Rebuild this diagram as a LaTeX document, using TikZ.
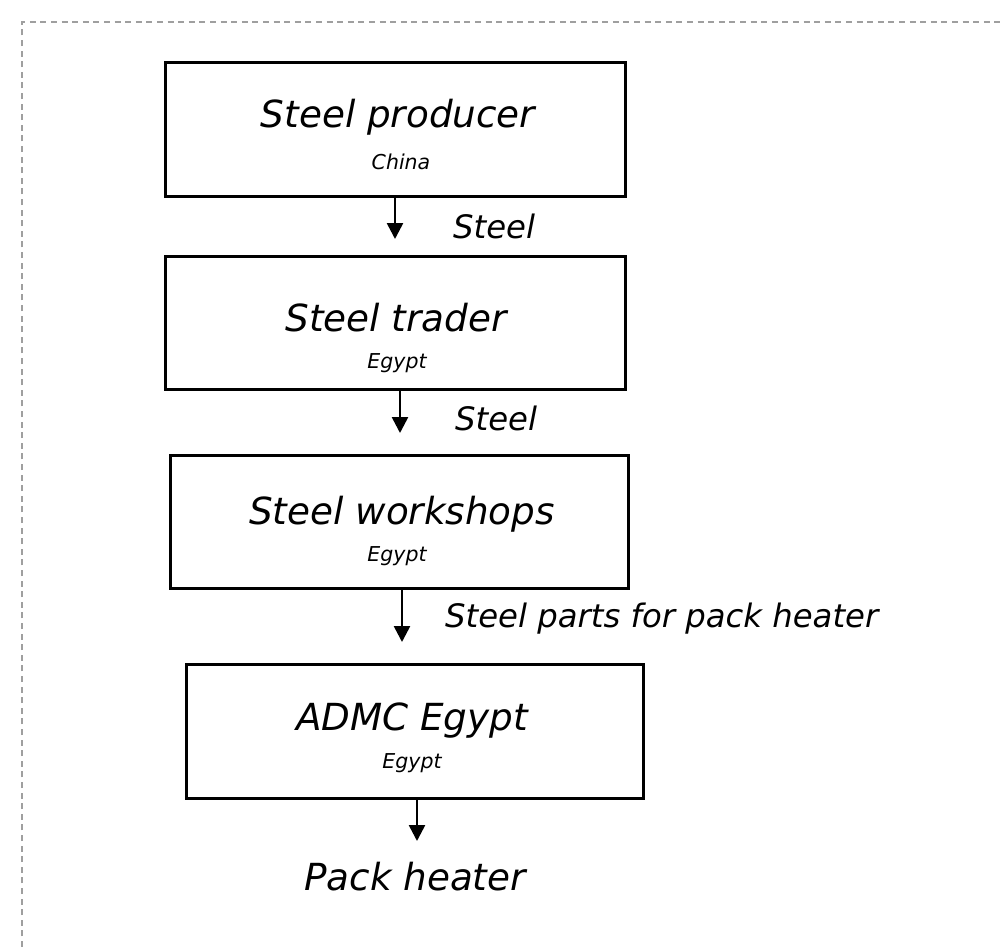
\documentclass[tikz,border=0pt]{standalone}
\usepackage{fontspec}
\setmainfont{DejaVu Sans}
\usetikzlibrary{arrows.meta}
\begin{document}
\begin{tikzpicture}[x=1pt,y=-1pt,
  stagebox/.style={draw=black,line width=3pt,rectangle,inner sep=0pt},
  title/.style={font=\fontsize{37.3}{40}\selectfont\itshape,inner sep=0pt},
  place/.style={font=\fontsize{20.5}{22}\selectfont\itshape,inner sep=0pt},
  flowlabel/.style={font=\fontsize{32.3}{34}\selectfont\itshape,inner sep=0pt,anchor=west},
  flow/.style={line width=2.6pt,-{Triangle[length=16pt,width=16pt]}}]
\useasboundingbox (0,0) rectangle (1004,946);
% dashed frame, running past the right and bottom edges
\draw[gray!75,line width=2pt,dash pattern=on 6pt off 4.6pt] (22,1000) -- (22,22) -- (1050,22);

% stage boxes
\node[stagebox,minimum width=460pt,minimum height=134pt] (b1) at (395,129) {};
\node[stagebox,minimum width=460pt,minimum height=133pt] (b2) at (395,322.5) {};
\node[stagebox,minimum width=458pt,minimum height=133pt] (b3) at (399,521.5) {};
\node[stagebox,minimum width=457pt,minimum height=134pt] (b4) at (414.5,731) {};

% box texts
\node[title] (t1) at (398,117) {Steel producer};
\node[place] (p1) at (401,162) {China};
\node[title] (t2) at (396,318) {Steel trader};
\node[place] (p2) at (397,363) {Egypt};
\node[title] (t3) at (402,514) {Steel workshops};
\node[place] (p3) at (397,556) {Egypt};
\node[title] (t4) at (412,721) {ADMC Egypt};
\node[place] (p4) at (412,763) {Egypt};

% arrow ends
\coordinate (e1) at (395,239);
\coordinate (e2) at (400,433);
\coordinate (e3) at (402,642);
\coordinate (e4) at (417,841);

\draw[flow] (b1.south -| e1) -- (e1);
\draw[flow] (b2.south -| e2) -- (e2);
\draw[flow] (b3.south -| e3) -- (e3);
\draw[flow] (b4.south -| e4) -- (e4);

% flow labels
\node[flowlabel] (l1) at (453,226) {Steel};
\node[flowlabel] (l2) at (455,418) {Steel};
\node[flowlabel] (l3) at (445,619) {Steel parts for pack heater};
\node[title] (out) at (415,877) {Pack heater};
\end{tikzpicture}
\end{document}
